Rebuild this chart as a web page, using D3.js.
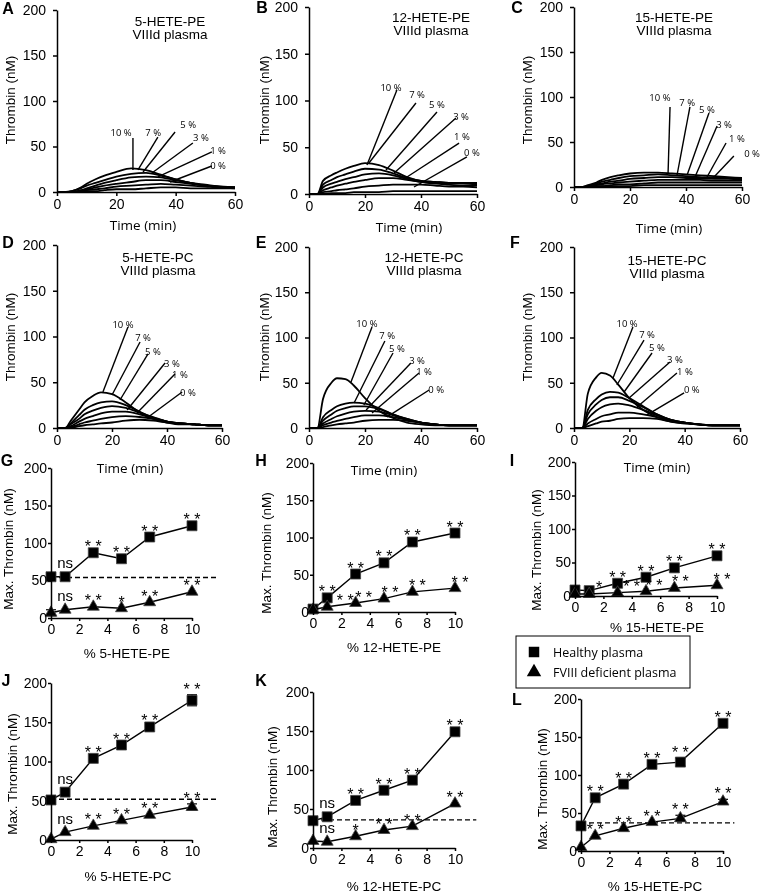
<!DOCTYPE html>
<html><head><meta charset="utf-8">
<script src="https://cdn.jsdelivr.net/npm/d3@7"></script>
<style>
body{margin:0;background:#fff}
svg{display:block;filter:grayscale(1)}
text{font-family:"Liberation Sans",Arial,sans-serif;fill:#000}
</style></head><body>
<svg id="c" width="761" height="892"></svg>
<script>
// ---------- DATA ----------
const timePoints = [0,3,5,8,10,13,16,20,25,30,35,40,45,50,55,60];
const concLabels = ["10 %","7 %","5 %","3 %","1 %","0 %"];
const timeTicks = [0,20,40,60];
const thrombinTicks = [0,50,100,150,200];
const pctTicks = [0,2,4,6,8,10];
const pctX = [0,1,3,5,7,10];

// thrombin generation curves (nM) for 10,7,5,3,1,0 %
const curvesA = [
 [0,0,1,5,9,14,18,22,26,24,19,14,10,7,5,4],
 [0,0,1,4,7,10,13,17,20,21,18,14,10,7,6,5],
 [0,0,0,2,4,7,10,13,16,17,16,13,10,8,6,5],
 [0,0,0,1,3,5,7,9,11,13,13,11,9,7,6,5],
 [0,0,0,1,2,3,4,6,7,8,9,8,7,6,5,5],
 [0,0,0,0,1,1,2,3,3,4,5,5,4,4,4,4]];
const curvesB = [
 [0,0,14,20,23,27,30,33,31,25,18,14,13,12,12,12],
 [0,0,10,15,18,21,24,27,26,22,17,14,13,12,12,11],
 [0,0,7,11,13,16,18,21,22,20,16,13,12,11,11,10],
 [0,0,4,7,9,11,13,15,17,17,15,13,11,10,9,9],
 [0,0,2,3,4,5,6,8,9,10,10,10,9,8,8,7],
 [0,0,0,1,1,1,2,2,2,3,3,3,3,3,3,3]];
const curvesC = [
 [0,0,2,5,8,11,13,15,16,16,15,14,13,12,11,10],
 [0,0,1,4,6,8,10,12,13,14,13,12,11,10,10,9],
 [0,0,1,3,4,6,7,9,10,11,11,10,10,9,9,8],
 [0,0,0,2,3,4,5,6,7,8,8,8,8,7,7,7],
 [0,0,0,1,1,2,3,3,4,5,5,5,5,5,5,5],
 [0,0,0,0,1,1,1,1,2,2,2,2,2,2,2,2]];
const curvesD = [
 [0,0,8,20,28,35,39,37,28,17,10,6,4,4,3,3],
 [0,0,5,14,20,25,28,29,25,18,11,7,5,4,3,3],
 [0,0,4,10,15,19,22,24,22,17,12,7,5,4,3,3],
 [0,0,2,7,10,13,16,18,18,15,11,7,5,4,3,3],
 [0,0,1,4,6,8,10,12,13,12,10,7,5,4,3,3],
 [0,0,0,2,3,4,5,6,8,9,8,6,5,4,3,3]];
const curvesE = [
 [0,0,32,50,55,54,47,33,19,11,6,4,3,3,3,3],
 [0,0,12,20,24,27,28,27,22,15,9,6,4,3,3,3],
 [0,0,8,15,19,22,24,24,21,15,10,6,4,3,3,3],
 [0,0,5,10,13,16,18,19,18,14,10,6,4,3,3,3],
 [0,0,3,6,8,10,12,14,14,12,9,6,4,3,3,3],
 [0,0,1,3,4,5,6,8,9,9,8,6,4,3,3,3]];
const curvesF = [
 [0,0,38,56,61,58,48,33,20,12,7,5,4,3,3,3],
 [0,0,20,32,37,40,39,33,24,15,9,6,4,3,3,3],
 [0,0,15,26,31,34,34,30,23,15,9,6,4,3,3,3],
 [0,0,10,19,23,26,27,25,20,14,9,6,4,3,3,3],
 [0,0,5,10,13,15,17,17,15,12,8,6,4,3,3,3],
 [0,0,2,5,7,8,10,11,11,10,7,5,4,3,3,3]];

// label annotations: [textT, textV, lineFromT, lineFromV, lineToT, lineToV] in data units
const annA = [[21.6,65.9,25.6,59.3,25.6,24.2],[32.4,65.9,34.0,60.4,27.3,24.2],[44.2,74.7,39.8,65.9,29.0,22.0],
 [48.5,60.4,45.8,53.8,32.0,20.9],[54.3,45.1,52.2,44.0,34.0,16.5],[54.3,28.6,52.2,28.6,38.1,11.0]];
const annB = [[29.3,114.4,31.4,111.2,20.7,31.0],[38.6,105.9,38.2,97.3,21.4,33.2],[45.7,95.2,45.7,87.7,27.5,25.7],
 [54.3,83.4,52.5,81.3,30.4,22.5],[54.6,62.0,53.6,54.5,35.0,18.2],[58.2,43.9,56.4,39.6,37.5,7.5]];
const annC = [[30.7,98.9,34.3,88.9,33.6,15.6],[40.4,94.4,41.4,88.9,36.8,13.3],[47.5,85.6,48.2,82.2,40.4,13.3],
 [53.6,70.0,51.1,67.8,43.2,11.1],[58.2,54.4,54.3,48.9,47.5,11.1],[63.6,36.7,57.1,34.4,50.0,11.1]];
const annD = [[24.0,112.6,25.8,110.4,16.7,39.3],[31.3,98.4,30.2,94.0,20.0,36.1],[34.9,83.1,33.1,80.9,22.9,30.6],
 [41.8,71.0,39.3,71.0,25.5,19.7],[44.7,59.0,42.9,59.0,29.1,16.4],[47.6,38.3,45.5,39.3,32.7,10.9]];
const annE = [[20.7,116.0,22.5,111.6,15.0,50.8],[27.9,101.7,27.1,96.1,16.1,27.6],[31.4,87.3,30.0,82.9,19.6,25.4],
 [38.6,75.1,36.4,71.8,20.4,19.9],[41.1,61.9,39.3,60.8,22.5,16.6],[45.4,42.0,42.9,42.0,27.9,12.2]];
const annF = [[19.2,116.0,21.3,111.6,14.1,55.2],[26.4,102.8,25.3,97.2,15.5,47.5],[30.0,88.4,28.2,82.9,18.1,39.8],
 [36.5,76.2,34.7,72.9,19.9,33.1],[40.1,61.9,37.2,60.8,22.8,23.2],[42.6,42.0,39.8,38.7,26.4,14.4]];

// max thrombin (nM)
const healthyG = [55,55,87,79,108,123], fviiiG = [7,11,15,13,21,35];
const healthyH = [4,19,51,66,94,106], fviiiH = [3,7,12,18,27,32];
const healthyI = [9,8,19,28,42,60], fviiiI = [3,3,5,7,12,16];
const healthyJ = [51,61,104,121,144,178], fviiiJ = [1,10,18,25,32,42];
const healthyK = [35,40,61,74,87,149], fviiiK = [9,8,15,23,28,57];
const healthyL = [33,70,88,114,117,168], fviiiL = [5,20,30,38,43,65];
const errHealthyJ = [0,0,0,0,0,7], errFviiiJ = [0,0,0,0,0,4];
const errHealthyL = [0,0,0,0,5,0], errFviiiL = [0,0,0,0,4,3];
const errFviiiG = [4,0,0,0,0,0];
const zeros = [0,0,0,0,0,0];
const baselineG = 54, baselineJ = 52, baselineK = 36, baselineL = 37;

// significance
const sigHG = ["","ns","* *","* *","* *","* *"], sigFG = ["","ns","* *","*","* *","* *"];
const sigHH = ["","* *","* *","* *","* *","* *"], sigFH = ["","* *","* *","* *","* *","* *"];
const sigHI = ["","","* *","* *","* *","* *"], sigFI = ["","*","* *","* *","* *","* *"];
const sigHJ = ["","ns","* *","* *","* *","* *"], sigFJ = ["","ns","* *","* *","* *","* *"];
const sigHK = ["","ns","* *","* *","* *","* *"], sigFK = ["","ns","*","* *","* *","* *"];
const sigHL = ["","* *","* *","* *","* *","* *"], sigFL = ["","* *","* *","* *","* *","* *"];

const legendLabels = ["Healthy plasma","FVIII deficient plasma"];

// ---------- DRAW ----------
const svg = d3.select("#c");

function styleAxis(g){
  g.attr("font-family","Liberation Sans, Arial, sans-serif").attr("font-size",14);
  g.selectAll("path,line").attr("stroke","#000").attr("stroke-width",1.5);
  g.selectAll("text").attr("fill","#000");
}

function letter(t, cx, cy){
  svg.append("text").attr("x",cx).attr("y",cy).attr("text-anchor","middle").attr("dominant-baseline","central")
    .attr("font-weight","bold").attr("font-size",16).text(t);
}

function ylabel(t, cx, cy){
  svg.append("text").attr("transform",`translate(${cx},${cy}) rotate(-90)`).attr("text-anchor","middle")
    .attr("dominant-baseline","central").attr("font-size",13.5).text(t);
}

const topPanels = [
 {L:"A", xr:[57,235], yr:[192,10], title:"5-HETE-PE", curves:curvesA, ann:annA, lp:[8,8], tp:[170,21], yl:[10,100], tl:[143,225]},
 {L:"B", xr:[309,477], yr:[194,7], title:"12-HETE-PE", curves:curvesB, ann:annB, lp:[262,7], tp:[431,17], yl:[264,100], tl:[409,227]},
 {L:"C", xr:[574,742], yr:[187,7], title:"15-HETE-PE", curves:curvesC, ann:annC, lp:[517,7], tp:[674,17], yl:[527,100], tl:[669,228]},
 {L:"D", xr:[57,222], yr:[428,245], title:"5-HETE-PC", curves:curvesD, ann:annD, lp:[8,242], tp:[158,257], yl:[10,337], tl:[130,468]},
 {L:"E", xr:[309,477], yr:[428,247], title:"12-HETE-PC", curves:curvesE, ann:annE, lp:[261,242], tp:[424,257], yl:[264,337], tl:[384,470]},
 {L:"F", xr:[574,740], yr:[428,247], title:"15-HETE-PC", curves:curvesF, ann:annF, lp:[515,242], tp:[667,260], yl:[527,337], tl:[657,467]}
];

topPanels.forEach(p=>{
  const x = d3.scaleLinear().domain([0,60]).range(p.xr);
  const y = d3.scaleLinear().domain([0,200]).range(p.yr);
  const g = svg.append("g");
  const line = d3.line().x((d,i)=>x(timePoints[i])).y(d=>y(d)).curve(d3.curveMonotoneX);
  p.curves.forEach(c=>{
    g.append("path").attr("d",line(c)).attr("fill","none").attr("stroke","#000").attr("stroke-width",1.8);
  });
  p.ann.forEach((a,i)=>{
    g.append("line").attr("x1",x(a[2])).attr("y1",y(a[3])).attr("x2",x(a[4])).attr("y2",y(a[5]))
      .attr("stroke","#000").attr("stroke-width",1.4);
    g.append("text").attr("x",x(a[0])).attr("y",y(a[1])).attr("text-anchor","middle").attr("dominant-baseline","central")
      .style("font-family","'Open Sans', sans-serif").style("fill","#000").attr("font-size",9.5).text(concLabels[i]);
  });
  g.append("g").attr("transform",`translate(0,${p.yr[0]})`)
    .call(d3.axisBottom(x).tickValues(timeTicks).tickSize(4).tickSizeOuter(0).tickPadding(3)).call(styleAxis);
  g.append("g").attr("transform",`translate(${p.xr[0]},0)`)
    .call(d3.axisLeft(y).tickValues(thrombinTicks).tickSize(4).tickSizeOuter(0).tickPadding(7)).call(styleAxis);
  letter(p.L, p.lp[0], p.lp[1]);
  svg.append("text").attr("x",p.tp[0]).attr("y",p.tp[1]).attr("text-anchor","middle").attr("dominant-baseline","central").attr("font-size",13.5).text(p.title);
  svg.append("text").attr("x",p.tp[0]).attr("y",p.tp[1]+13.5).attr("text-anchor","middle").attr("dominant-baseline","central").attr("font-size",13.5).text("VIIId plasma");
  ylabel("Thrombin (nM)", p.yl[0], p.yl[1]);
  svg.append("text").attr("x",p.tl[0]).attr("y",p.tl[1]).attr("text-anchor","middle").attr("dominant-baseline","central")
    .style("font-family","'Open Sans', sans-serif").attr("font-size",13.5).text("Time (min)");
});

const noShift = [0,0,0,0,0,0];
const botPanels = [
 {L:"G", xr:[51,192], yr:[618,468], xlab:"% 5-HETE-PE", h:healthyG, f:fviiiG, eh:zeros, ef:errFviiiG, sh:sigHG, sf:sigFG, fdx:noShift, base:baselineG, dashEnd:11.8, lp:[7,460], yl:[8,549], xl:[127,653]},
 {L:"H", xr:[313,455], yr:[612,463], xlab:"% 12-HETE-PE", h:healthyH, f:fviiiH, eh:zeros, ef:zeros, sh:sigHH, sf:sigFH, fdx:[0,18,8,6,5,5], base:null, lp:[261,460], yl:[266,553], xl:[394,647]},
 {L:"I", xr:[575,717], yr:[596,462], xlab:"% 15-HETE-PE", h:healthyI, f:fviiiI, eh:zeros, ef:zeros, sh:sigHI, sf:sigFI, fdx:[0,10,14,8,6,5], base:null, lp:[512,460], yl:[536,550], xl:[657,627]},
 {L:"J", xr:[51,192], yr:[840,683], xlab:"% 5-HETE-PC", h:healthyJ, f:fviiiJ, eh:errHealthyJ, ef:errFviiiJ, sh:sigHJ, sf:sigFJ, fdx:noShift, base:baselineJ, dashEnd:11.8, lp:[6,680], yl:[12,774], xl:[128,876]},
 {L:"K", xr:[313,455], yr:[848,692], xlab:"% 12-HETE-PC", h:healthyK, f:fviiiK, eh:zeros, ef:zeros, sh:sigHK, sf:sigFK, fdx:noShift, base:baselineK, dashEnd:11.5, lp:[261,680], yl:[272,787], xl:[394,886]},
 {L:"L", xr:[581,723], yr:[851,699], xlab:"% 15-HETE-PC", h:healthyL, f:fviiiL, eh:errHealthyL, ef:errFviiiL, sh:sigHL, sf:sigFL, fdx:noShift, base:baselineL, dashEnd:10.8, lp:[517,699], yl:[542,789], xl:[655,886]}
];

const sqSym = d3.symbol().type(d3.symbolSquare).size(100);
const triSym = d3.symbol().type(d3.symbolTriangle).size(62);

botPanels.forEach(p=>{
  const x = d3.scaleLinear().domain([0,10]).range(p.xr);
  const y = d3.scaleLinear().domain([0,200]).range(p.yr);
  const g = svg.append("g");
  if(p.base!==null){
    g.append("line").attr("x1",x(0)).attr("x2",x(p.dashEnd)).attr("y1",y(p.base)).attr("y2",y(p.base))
      .attr("stroke","#000").attr("stroke-width",1.4).attr("stroke-dasharray","5,3");
  }
  const line = d3.line().x((d,i)=>x(pctX[i])).y(d=>y(d));
  [[p.h,p.eh,sqSym],[p.f,p.ef,triSym]].forEach(([vals,errs,sym])=>{
    g.append("path").attr("d",line(vals)).attr("fill","none").attr("stroke","#000").attr("stroke-width",1.4);
    vals.forEach((v,i)=>{
      if(errs[i]>0){
        const cx=x(pctX[i]);
        g.append("line").attr("x1",cx).attr("x2",cx).attr("y1",y(v-errs[i])).attr("y2",y(v+errs[i])).attr("stroke","#000").attr("stroke-width",1.2);
        [v-errs[i],v+errs[i]].forEach(e=>g.append("line").attr("x1",cx-5).attr("x2",cx+5).attr("y1",y(e)).attr("y2",y(e)).attr("stroke","#000").attr("stroke-width",1.2));
      }
      g.append("path").attr("d",sym()).attr("transform",`translate(${x(pctX[i])},${y(v)})`)
        .attr("fill","#000").attr("stroke","#444").attr("stroke-width",0.8);
    });
  });
  [[p.h,p.sh,p.eh,noShift],[p.f,p.sf,p.ef,p.fdx]].forEach(([vals,sig,errs,dx])=>{
    vals.forEach((v,i)=>{
      if(!sig[i]) return;
      const isNs = sig[i]==="ns";
      const off = isNs ? 14 : 10;
      g.append("text").attr("x",x(pctX[i])+dx[i]).attr("y",y(v)-off-(errs[i]>0?errs[i]*0.7:0))
        .attr("text-anchor","middle").attr("dominant-baseline","central")
        .attr("font-size",isNs?15:16).text(sig[i])
        .attr("dy", isNs ? "0" : "0.25em");
    });
  });
  g.append("g").attr("transform",`translate(0,${p.yr[0]})`)
    .call(d3.axisBottom(x).tickValues(pctTicks).tickSize(3).tickSizeOuter(0).tickPadding(3)).call(styleAxis);
  g.append("g").attr("transform",`translate(${p.xr[0]},0)`)
    .call(d3.axisLeft(y).tickValues(thrombinTicks).tickSize(3).tickSizeOuter(0).tickPadding(1)).call(styleAxis);
  letter(p.L, p.lp[0], p.lp[1]);
  ylabel("Max. Thrombin (nM)", p.yl[0], p.yl[1]);
  svg.append("text").attr("x",p.xl[0]).attr("y",p.xl[1]).attr("text-anchor","middle").attr("dominant-baseline","central").attr("font-size",13.5).text(p.xlab);
});

// legend
const lg = svg.append("g");
lg.append("rect").attr("x",516).attr("y",636).attr("width",174).attr("height",52).attr("fill","#fff").attr("stroke","#000").attr("stroke-width",1);
[0,1].forEach(i=>{
  lg.append("path").attr("d", i===0 ? d3.symbol().type(d3.symbolSquare).size(110)() : d3.symbol().type(d3.symbolTriangle).size(90)())
    .attr("transform",`translate(534,${652+i*20})`).attr("fill","#000");
  lg.append("text").attr("x",553).attr("y",652+i*20).attr("dominant-baseline","central")
    .style("font-family","'Open Sans', sans-serif").attr("font-size",12.5).text(legendLabels[i]);
});
</script>
</body></html>
